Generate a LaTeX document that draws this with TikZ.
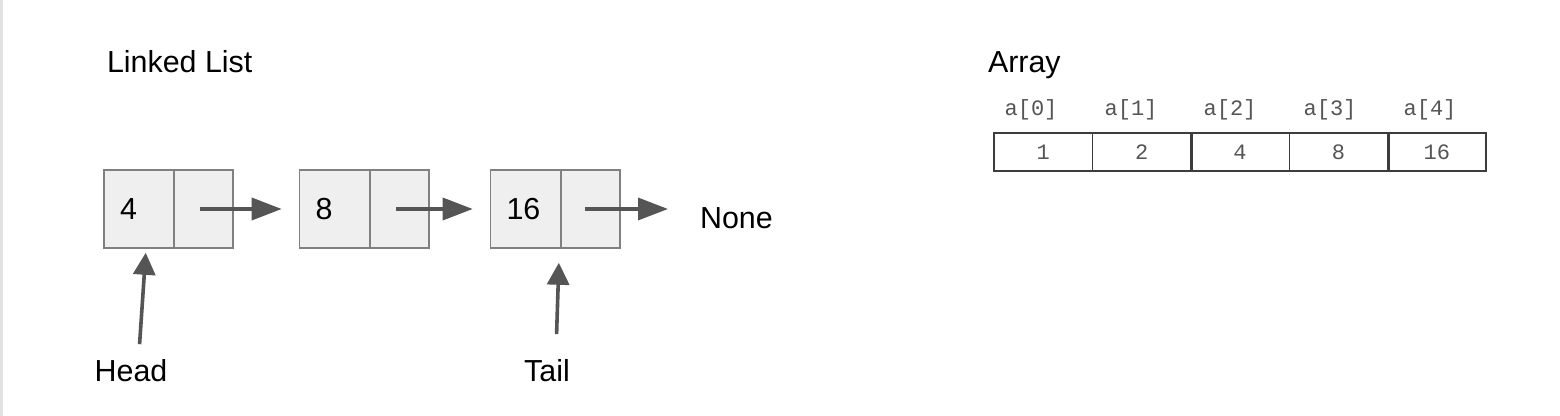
\documentclass[tikz,border=0pt]{standalone}
\usepackage{fontspec}
\setmainfont{Liberation Sans}
\setmonofont{Liberation Mono}
\usepackage{xcolor}
\usepackage{tikz}
\usetikzlibrary{arrows.meta}
\definecolor{cellfill}{RGB}{239,239,239}
\definecolor{celldraw}{RGB}{128,128,128}
\definecolor{pointer}{RGB}{85,85,85}
\definecolor{arraydraw}{RGB}{60,60,60}
\definecolor{indexgray}{RGB}{85,85,85}
\definecolor{edgegray}{RGB}{226,226,226}

\begin{document}
\begin{tikzpicture}[x=0.5pt,y=-0.5pt]
\useasboundingbox[fill=white] (0,0) rectangle (1560,416);
\draw[edgegray, line width=1.2pt] (1.5,0) -- (1.5,416);

% Titles
\node[anchor=west, font=\fontsize{15.2}{17}\selectfont] (lltitle) at (100,62) {Linked List};
\node[anchor=west, font=\fontsize{15.2}{17}\selectfont] (arrtitle) at (981,65) {Array};

% Linked list nodes
\node[draw=celldraw, fill=cellfill, line width=0.8pt, minimum height=39pt, inner xsep=8pt, text width=19pt, align=left, font=\fontsize{15.2}{17}\selectfont] (v1) at (139,209) {4};
\node[draw=celldraw, fill=cellfill, line width=0.8pt, minimum width=29.5pt, minimum height=39pt, inner sep=0pt] (p1) at (203.5,209) {};
\node[draw=celldraw, fill=cellfill, line width=0.8pt, minimum height=39pt, inner xsep=8pt, text width=19pt, align=left, font=\fontsize{15.2}{17}\selectfont] (v2) at (334.5,209) {8};
\node[draw=celldraw, fill=cellfill, line width=0.8pt, minimum width=29.5pt, minimum height=39pt, inner sep=0pt] (p2) at (399.5,209) {};
\node[draw=celldraw, fill=cellfill, line width=0.8pt, minimum height=39pt, inner xsep=8pt, text width=19pt, align=left, font=\fontsize{15.2}{17}\selectfont] (v3) at (525.5,209) {16};
\node[draw=celldraw, fill=cellfill, line width=0.8pt, minimum width=29.5pt, minimum height=39pt, inner sep=0pt] (p3) at (590.5,209) {};
\node[anchor=west, font=\fontsize{15.2}{17}\selectfont] (none) at (693,218) {None};

% Labels
\node[font=\fontsize{15.2}{17}\selectfont] (head) at (131,371) {Head};
\node[font=\fontsize{15.2}{17}\selectfont] (tail) at (547,371) {Tail};

% Edges
\draw[pointer, line width=1.8pt, -{Triangle[length=15pt,width=11pt]}, shorten >=8.5pt] ([xshift=-2pt]p1.center) -- (v2.west);
\draw[pointer, line width=1.8pt, -{Triangle[length=15pt,width=11pt]}, shorten >=8.5pt] ([xshift=-2pt]p2.center) -- (v3.west);
\draw[pointer, line width=1.8pt, -{Triangle[length=15pt,width=11pt]}, shorten >=12.5pt] ([xshift=-3pt]p3.center) -- (p3.center -| none.west);
\draw[pointer, line width=1.8pt, -{Triangle[length=11pt,width=11pt]}, shorten <=4.3pt, shorten >=2pt] ([xshift=4pt]head.north) -- ([xshift=3.5pt]v1.south);
\draw[pointer, line width=1.8pt, -{Triangle[length=11pt,width=11pt]}, shorten <=9.3pt, shorten >=7pt] ([xshift=4.5pt]tail.north) -- ([xshift=-1pt]v3.south east);

% Array cells
\node[draw=arraydraw, line width=0.7pt, minimum width=49.2pt, minimum height=19pt, inner sep=0pt, text=indexgray, font=\ttfamily\fontsize{11}{13}\selectfont] (a0) at (1043.2,152) {1};
\node[draw=arraydraw, line width=0.7pt, minimum width=49.2pt, minimum height=19pt, inner sep=0pt, text=indexgray, font=\ttfamily\fontsize{11}{13}\selectfont] (a1) at (1141.6,152) {2};
\node[draw=arraydraw, line width=0.7pt, minimum width=49.2pt, minimum height=19pt, inner sep=0pt, text=indexgray, font=\ttfamily\fontsize{11}{13}\selectfont] (a2) at (1240,152) {4};
\node[draw=arraydraw, line width=0.7pt, minimum width=49.2pt, minimum height=19pt, inner sep=0pt, text=indexgray, font=\ttfamily\fontsize{11}{13}\selectfont] (a3) at (1338.4,152) {8};
\node[draw=arraydraw, line width=0.7pt, minimum width=49.2pt, minimum height=19pt, inner sep=0pt, text=indexgray, font=\ttfamily\fontsize{11}{13}\selectfont] (a4) at (1436.8,152) {16};
\draw[arraydraw, line width=1.2pt] (a1.north east) -- (a1.south east);
\draw[arraydraw, line width=1.2pt] (a3.north east) -- (a3.south east);

% Index labels
\node[text=indexgray, font=\ttfamily\fontsize{11}{13}\selectfont] (i0) at (1031,110) {a[0]};
\node[text=indexgray, font=\ttfamily\fontsize{11}{13}\selectfont] (i1) at (1131,110) {a[1]};
\node[text=indexgray, font=\ttfamily\fontsize{11}{13}\selectfont] (i2) at (1230,110) {a[2]};
\node[text=indexgray, font=\ttfamily\fontsize{11}{13}\selectfont] (i3) at (1330,110) {a[3]};
\node[text=indexgray, font=\ttfamily\fontsize{11}{13}\selectfont] (i4) at (1430,110) {a[4]};
\end{tikzpicture}
\end{document}
